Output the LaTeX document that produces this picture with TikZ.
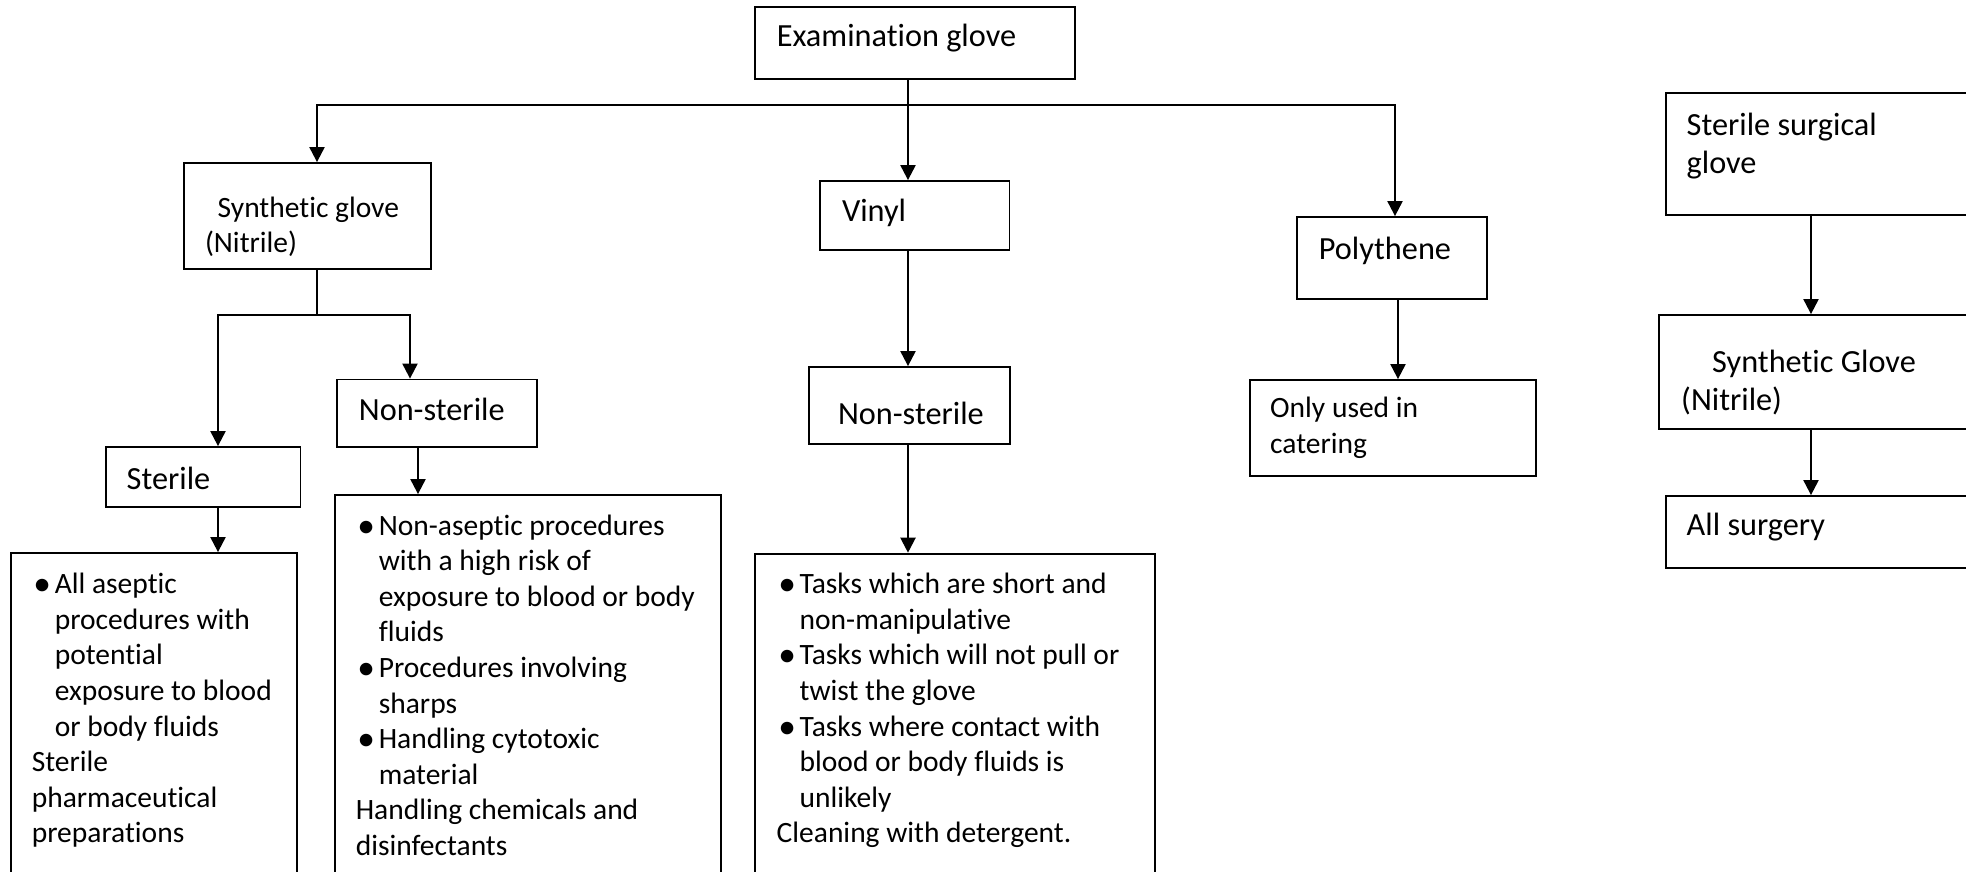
\documentclass[tikz,border=0pt]{standalone}
\usepackage{fontspec}
\setmainfont{Carlito}[Ligatures=NoCommon]
\usetikzlibrary{arrows.meta,fit}
\newcommand\gbul{\raisebox{-2pt}{\scalebox{1.2}{•}}}
\newcommand\gitem[1]{\par\noindent\hangindent=23pt\hangafter=1\makebox[23pt][l]{\makebox[20.8pt][c]{\gbul}}#1}
\newcommand\gtext[1]{\parbox[t]{600pt}{#1}}
\begin{document}
\begin{tikzpicture}[x=1pt,y=-1pt,
  box/.style={draw, line width=1.8pt, inner sep=0pt, rectangle},
  ln/.style={line width=2.1pt},
  arr/.style={line width=2.1pt, -{Triangle[length=15pt,width=15pt]}},
  body/.style={anchor=base west, inner sep=0pt, font=\fontsize{29.5pt}{35.6pt}\selectfont},
  head/.style={anchor=base west, inner sep=0pt, font=\fontsize{32.3pt}{38.5pt}\selectfont}]
\useasboundingbox (0,0) rectangle (1966,872);
\fill[white] (0,0) rectangle (1966,872);
\clip (0,0) rectangle (1966,872);
% boxes
\node[box, fit={(755,7) (1075,79)}] (exam) {};
\node[box, fit={(184,163) (431,269)}] (synth) {};
\node[box, fit={(820,181) (1009.5,250)}] (vinyl) {};
\node[box, fit={(1297,217) (1487,299)}] (poly) {};
\node[box, fit={(106,447) (300.5,507)}] (sterile) {};
\node[box, fit={(337,379.5) (537,447)}] (nsl) {};
\node[box, fit={(808.7,367) (1010,443.7)}] (nsm) {};
\node[box, fit={(1250,380) (1536,476)}] (only) {};
\node[box, fit={(11,553) (297,900)}] (bl) {};
\node[box, fit={(335,495) (721,900)}] (bml) {};
\node[box, fit={(755,553.6) (1154.6,900)}] (bmm) {};
\node[box, fit={(1665.6,93) (1990,215)}] (ssg) {};
\node[box, fit={(1659,315) (1990,429)}] (sg) {};
\node[box, fit={(1665.6,496) (1990,568)}] (alls) {};
% texts
\node[head] (t-exam) at (776.6,46.7) {Examination glove};
\node[body] (t-synth) at (204.8,217) {\gtext{\hspace*{12.7pt}Synthetic glove\\(Nitrile)}};
\node[head] (t-vinyl) at (841.8,221.7) {Vinyl};
\node[head] (t-poly) at (1318.7,259) {Polythene};
\node[body] (t-only) at (1270,417.5) {\gtext{Only used in\\catering}};
\node[head] (t-ssg) at (1686.5,135.2) {\gtext{Sterile surgical\\glove}};
\node[head] (t-sg) at (1681,372) {\gtext{\hspace*{31pt}Synthetic Glove\\(Nitrile)}};
\node[head] (t-alls) at (1686.5,535.8) {All surgery};
\node[head] (t-sterile) at (126.5,489) {Sterile};
\node[head] (t-nsl) at (358.7,420) {Non-sterile};
\node[head] (t-nsm) at (837.8,424) {Non-sterile};
\node[body] (t-bl) at (31.6,593.7) {\gtext{%
  \gitem{All aseptic\\procedures with\\potential\\exposure to blood\\or body fluids}
  \par\noindent Sterile\\pharmaceutical\\preparations}};
\node[body] (t-bml) at (355.6,535) {\gtext{%
  \gitem{Non-aseptic procedures\\with a high risk of\\exposure to blood or body\\fluids}
  \gitem{Procedures involving\\sharps}
  \gitem{Handling cytotoxic\\material}
  \par\noindent Handling chemicals and\\disinfectants}};
\node[body] (t-bmm) at (776.5,593.7) {\gtext{%
  \gitem{Tasks which are short and\\non-manipulative}
  \gitem{Tasks which will not pull or\\twist the glove}
  \gitem{Tasks where contact with\\blood or body fluids is\\unlikely}
  \par\noindent Cleaning with detergent.}};
% connector coordinates
\coordinate (busM) at (908,105);
\coordinate (busL) at (317,105);
\coordinate (busR) at (1395,105);
\coordinate (sj) at (317,314.6);
\coordinate (sjL) at (218,314.6);
\coordinate (sjR) at (410,314.6);
\coordinate (cNS) at (418,0);
\coordinate (cPO) at (1398,0);
\coordinate (cSU) at (1811,0);
% connectors
\draw[ln] (exam.south -| busM) -- (busM);
\draw[arr] (busM) -- (vinyl.north -| busM);
\draw[arr] (busM) -- (busL) -- (synth.north -| busL);
\draw[arr] (busM) -- (busR) -- (poly.north -| busR);
\draw[ln] (synth.south -| sj) -- (sj);
\draw[arr] (sj) -- (sjL) -- (sterile.north -| sjL);
\draw[arr] (sj) -- (sjR) -- (nsl.north -| sjR);
\draw[arr] (sterile.south -| sjL) -- (bl.north -| sjL);
\draw[arr] (nsl.south -| cNS) -- (bml.north -| cNS);
\draw[arr] (vinyl.south -| busM) -- (nsm.north -| busM);
\draw[arr] (nsm.south -| busM) -- (bmm.north -| busM);
\draw[arr] (poly.south -| cPO) -- (only.north -| cPO);
\draw[arr] (ssg.south -| cSU) -- (sg.north -| cSU);
\draw[arr] (sg.south -| cSU) -- (alls.north -| cSU);
\end{tikzpicture}
\end{document}
